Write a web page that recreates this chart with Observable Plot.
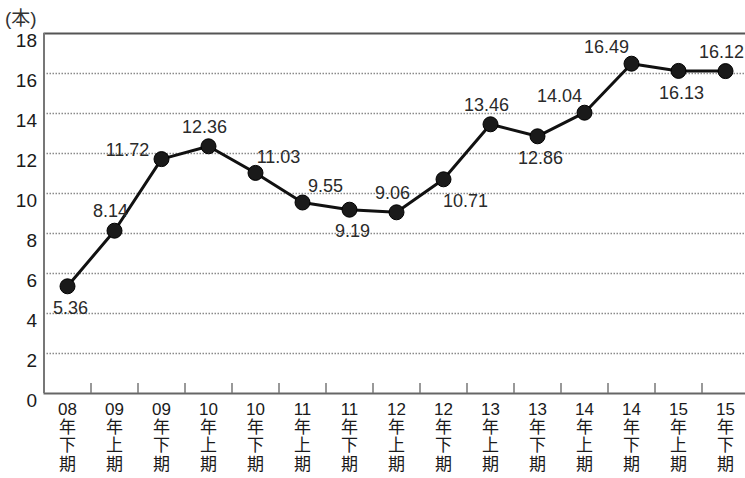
<!DOCTYPE html>
<html>
<head>
<meta charset="utf-8">
<script src="https://cdn.jsdelivr.net/npm/d3@7"></script>
<script src="https://cdn.jsdelivr.net/npm/@observablehq/plot@0.6"></script>
<style>
  html, body { margin: 0; padding: 0; background: #fff; }
  #chart { position: relative; width: 745px; height: 478px; overflow: hidden; }
  #unit { position: absolute; left: 5px; top: 3px; font: 19px "Liberation Sans", "Noto Sans CJK JP", sans-serif; color: #333; }
  svg { font-family: "Liberation Sans", "Noto Sans CJK JP", sans-serif; }
</style>
</head>
<body>
<div id="chart"><div id="unit">(本)</div></div>
<script>
const periods = ["08\n年\n下\n期","09\n年\n上\n期","09\n年\n下\n期","10\n年\n上\n期","10\n年\n下\n期",
  "11\n年\n上\n期","11\n年\n下\n期","12\n年\n上\n期","12\n年\n下\n期","13\n年\n上\n期",
  "13\n年\n下\n期","14\n年\n上\n期","14\n年\n下\n期","15\n年\n上\n期","15\n年\n下\n期"];
const values = [5.36, 8.14, 11.72, 12.36, 11.03, 9.55, 9.19, 9.06, 10.71, 13.46, 12.86, 14.04, 16.49, 16.13, 16.12];
const labelPlacement = ["below","above","left","above","upperRight","upperRight","below","above",
  "lowerRight","above","below","upperLeft","upperLeft","below","above"];
const yTicks = [0, 2, 4, 6, 8, 10, 12, 14, 16, 18];

const data = values.map((v, i) => ({i, v, place: labelPlacement[i]}));
const offsets = {
  below: [3, 22], above: [-4, -19], left: [-34, -9],
  upperRight: [23, -16], lowerRight: [22, 22], upperLeft: [-25, -16]
};
const labelMarks = Object.entries(offsets).map(([k, [dx, dy]]) =>
  Plot.text(data.filter(d => d.place === k), {
    x: "i", y: "v", text: d => d.v.toFixed(2), dx, dy,
    fontSize: 18, fill: "#2a2a2a"
  })
);
const idx = periods.map((_, i) => i);
const bounds = periods.slice(0, -1).map((_, i) => i + 0.5);

const chart = Plot.plot({
  width: 745,
  height: 478,
  marginTop: 33,
  marginBottom: 85,
  marginLeft: 43.5,
  marginRight: 0,
  x: {domain: [-0.5, 14.5], range: [43.5, 748.5]},
  y: {domain: [0, 18]},
  marks: [
    Plot.ruleY(yTicks.filter(t => t > 0 && t < 18), {stroke: "#8a8a8a", strokeWidth: 1.5, strokeDasharray: "1.5,1.5"}),
    Plot.ruleY([18], {stroke: "#555", strokeWidth: 2}),
    Plot.ruleY([0], {stroke: "#666", strokeWidth: 2}),
    Plot.ruleX([-0.5], {stroke: "#777", strokeWidth: 2}),
    Plot.ruleX(bounds, {y1: 0, y2: 0.5, stroke: "#777", strokeWidth: 1.5}),
    Plot.axisY({ticks: yTicks, tickSize: 0, tickPadding: 7, dy: 7, fontSize: 19, fill: "#1a1a1a", label: null}),
    Plot.axisX({ticks: idx, tickFormat: i => periods[i], tickSize: 0, tickPadding: 8,
      fontSize: 17, lineHeight: 1.08, fill: "#1a1a1a", label: null}),
    Plot.line(data, {x: "i", y: "v", stroke: "#111", strokeWidth: 3}),
    Plot.dot(data, {x: "i", y: "v", r: 7.5, fill: "#1a1a1a", stroke: "#000", strokeWidth: 1}),
    ...labelMarks
  ]
});
document.getElementById("chart").appendChild(chart);
</script>
</body>
</html>
